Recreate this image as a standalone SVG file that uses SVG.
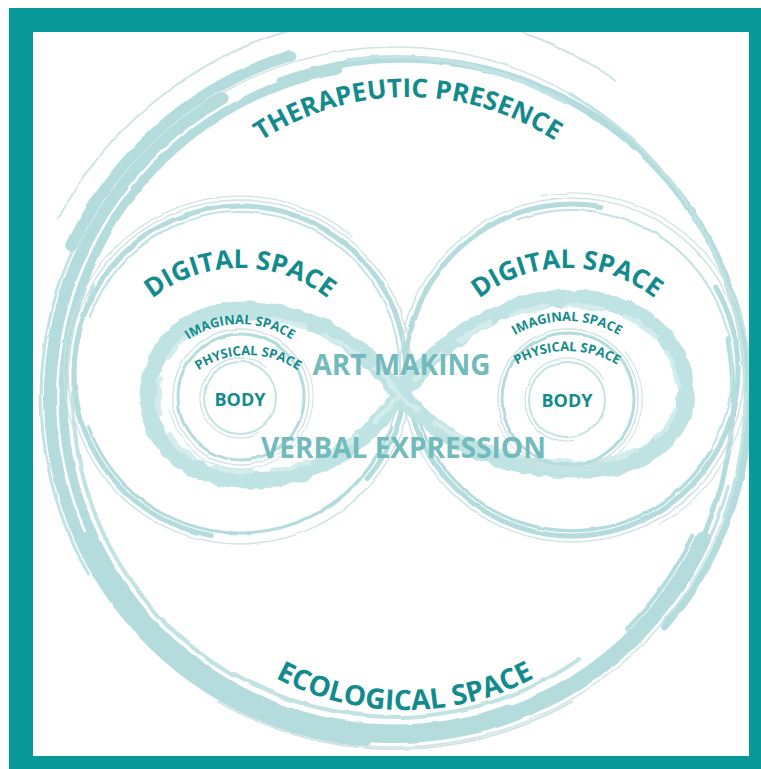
<svg xmlns="http://www.w3.org/2000/svg" width="761" height="769" viewBox="0 0 761 769">
<style>
.b{fill:none;stroke:#b4dcdd;stroke-linecap:round}
.l{fill:none;stroke:#c2e2e3;stroke-linecap:round}
.g{fill:none;stroke:#cfe3e3;stroke-linecap:round}
.lbl{font-family:"Open Sans","Liberation Sans",sans-serif;font-weight:700;fill:#138b8d}
.mid{font-family:"Open Sans","Liberation Sans",sans-serif;font-weight:700;fill:#72babc;text-anchor:middle}
</style>
<defs>
<filter id="rough" x="-5%" y="-5%" width="110%" height="110%">
<feTurbulence type="fractalNoise" baseFrequency="0.07" numOctaves="2" seed="4"/>
<feDisplacementMap in="SourceGraphic" scale="7" xChannelSelector="R" yChannelSelector="G"/>
</filter>
<filter id="soft" x="-5%" y="-5%" width="110%" height="110%">
<feTurbulence type="fractalNoise" baseFrequency="0.04" numOctaves="2" seed="9"/>
<feDisplacementMap in="SourceGraphic" scale="3" xChannelSelector="R" yChannelSelector="G"/>
</filter>
<path id="p-ther" d="M140,365 A268,268 0 0 1 676,365"/>
<path id="p-eco" d="M128,433 A277,277 0 0 0 682,433"/>
<path id="p-dl" d="M99,409 A141,141 0 0 1 381,409"/>
<path id="p-dr" d="M426,409 A141,141 0 0 1 708,409"/>
<path id="p-il" d="M147,417 A93,93 0 0 1 333,417"/>
<path id="p-pl" d="M160,443 A88,88 0 0 1 336,443"/>
<path id="p-ir" d="M465,423 A102,102 0 0 1 669,423"/>
<path id="p-pr" d="M469,449 A98,98 0 0 1 665,449"/>
</defs>
<rect width="761" height="769" fill="#ffffff"/>

<g id="therapeutic-presence-ring" filter="url(#soft)">
<circle class="g" cx="395" cy="397" r="350" stroke-width="1.5"/>
<circle class="b" cx="395" cy="397" r="345" stroke-width="12" pathLength="360" stroke-dasharray="145 999" transform="rotate(95 395 397)"/>
<circle class="b" cx="395" cy="397" r="332" stroke-width="9" pathLength="360" stroke-dasharray="190 999" transform="rotate(70 395 397)"/>
<circle class="l" cx="395" cy="397" r="322" stroke-width="4" pathLength="360" stroke-dasharray="80 999" transform="rotate(120 395 397)"/>
<circle class="l" cx="395" cy="397" r="354" stroke-width="3" pathLength="360" stroke-dasharray="75 999" transform="rotate(150 395 397)"/>
<circle class="b" cx="395" cy="397" r="357" stroke-width="11" pathLength="360" stroke-dasharray="48 999" transform="rotate(205 395 397)"/>
<circle class="g" cx="395" cy="397" r="381" stroke-width="2" pathLength="360" stroke-dasharray="50 999" transform="rotate(208 395 397)"/>
<circle class="g" cx="395" cy="397" r="386" stroke-width="2" pathLength="360" stroke-dasharray="23 999" transform="rotate(282 395 397)"/>
<ellipse class="b" cx="398" cy="405" rx="345" ry="352" stroke-width="7" pathLength="360" stroke-dasharray="150 999" transform="rotate(250 398 405)"/>
<circle class="l" cx="395" cy="397" r="340" stroke-width="4" pathLength="360" stroke-dasharray="38 999" transform="rotate(262 395 397)"/>
<circle class="l" cx="395" cy="397" r="350" stroke-width="3" pathLength="360" stroke-dasharray="80 999" transform="rotate(300 395 397)"/>
<circle class="b" cx="395" cy="397" r="338" stroke-width="5" pathLength="360" stroke-dasharray="40 999" transform="rotate(350 395 397)"/>
<circle class="b" cx="395" cy="397" r="328" stroke-width="4" pathLength="360" stroke-dasharray="20 999" transform="rotate(25 395 397)"/>
<circle class="l" cx="395" cy="397" r="345" stroke-width="3" pathLength="360" stroke-dasharray="20 999" transform="rotate(15 395 397)"/>
</g>

<g id="ecological-space-ring" filter="url(#soft)">
<circle class="b" cx="395" cy="395" r="340" stroke-width="16" pathLength="360" stroke-dasharray="130 999" transform="rotate(25 395 395)"/>
<circle class="l" cx="395" cy="395" r="322" stroke-width="4" pathLength="360" stroke-dasharray="65 999" transform="rotate(55 395 395)"/>
<circle class="g" cx="395" cy="395" r="354" stroke-width="2" pathLength="360" stroke-dasharray="60 999" transform="rotate(60 395 395)"/>
</g>

<g id="digital-left" filter="url(#soft)">
<circle class="b" cx="240" cy="372" r="166" stroke-width="5" pathLength="360" stroke-dasharray="300 999" transform="rotate(100 240 372)"/>
<circle class="g" cx="240" cy="372" r="172" stroke-width="1.5"/>
<circle class="l" cx="240" cy="372" r="160" stroke-width="2" pathLength="360" stroke-dasharray="220 999" transform="rotate(200 240 372)"/>
<circle class="g" cx="240" cy="372" r="176" stroke-width="1.2" pathLength="360" stroke-dasharray="150 999" transform="rotate(160 240 372)"/>
<circle class="b" cx="240" cy="372" r="161" stroke-width="3" pathLength="360" stroke-dasharray="140 999" transform="rotate(20 240 372)"/>
</g>

<g id="digital-right" filter="url(#soft)">
<circle class="b" cx="572" cy="370" r="166" stroke-width="5" pathLength="360" stroke-dasharray="310 999" transform="rotate(330 572 370)"/>
<circle class="g" cx="572" cy="370" r="172" stroke-width="1.5"/>
<circle class="l" cx="572" cy="370" r="160" stroke-width="2" pathLength="360" stroke-dasharray="220 999" transform="rotate(250 572 370)"/>
<circle class="g" cx="572" cy="370" r="177" stroke-width="1.2" pathLength="360" stroke-dasharray="160 999" transform="rotate(260 572 370)"/>
<circle class="b" cx="572" cy="370" r="161" stroke-width="3" pathLength="360" stroke-dasharray="140 999" transform="rotate(30 572 370)"/>
</g>

<g id="infinity-loop">
<path filter="url(#rough)" fill="none" stroke="#bfe2e2" stroke-width="17" stroke-linejoin="round" d="M400,395 C365,345 310,310 245,310 C180,310 148,355 148,398 C148,445 190,480 250,480 C320,480 368,440 400,395 C440,340 500,298 570,298 C645,298 686,345 686,392 C686,438 640,470 580,470 C500,470 440,440 400,395 Z"/>
<path filter="url(#rough)" fill="none" stroke="#d3ecec" stroke-width="5" stroke-dasharray="40 18" d="M400,395 C365,350 310,318 245,318 C185,318 158,358 158,398 C158,440 195,472 250,472 C318,472 365,435 400,395 C440,345 500,306 570,306 C640,306 678,348 678,392 C678,432 638,462 580,462 C505,462 440,435 400,395 Z"/>
</g>

<g id="body-left">
<g filter="url(#soft)">
<circle class="l" cx="240" cy="398" r="36" stroke-width="2"/>
<circle class="g" cx="240" cy="398" r="40" stroke-width="1.3" pathLength="360" stroke-dasharray="250 999" transform="rotate(60 240 398)"/>
<circle class="b" cx="241" cy="397" r="63" stroke-width="3"/>
<circle class="g" cx="241" cy="397" r="68" stroke-width="1.4"/>
<circle class="g" cx="241" cy="397" r="72" stroke-width="1" pathLength="360" stroke-dasharray="200 999" transform="rotate(330 241 397)"/>
</g>
<text class="lbl" x="240" y="405.5" font-size="18" text-anchor="middle">BODY</text>
</g>

<g id="body-right">
<g filter="url(#soft)">
<circle class="l" cx="567" cy="400" r="38" stroke-width="2"/>
<circle class="g" cx="567" cy="400" r="42" stroke-width="1.3" pathLength="360" stroke-dasharray="250 999" transform="rotate(80 567 400)"/>
<circle class="b" cx="568" cy="399" r="66" stroke-width="3"/>
<circle class="g" cx="568" cy="399" r="70" stroke-width="1.4"/>
<circle class="g" cx="568" cy="399" r="74" stroke-width="1" pathLength="360" stroke-dasharray="200 999" transform="rotate(320 568 399)"/>
</g>
<text class="lbl" x="567" y="406.5" font-size="18" text-anchor="middle">BODY</text>
</g>

<g id="labels">
<text class="lbl" font-size="26"><textPath href="#p-ther" startOffset="50%" text-anchor="middle">THERAPEUTIC PRESENCE</textPath></text>
<text class="lbl" font-size="28"><textPath href="#p-eco" startOffset="50%" text-anchor="middle">ECOLOGICAL SPACE</textPath></text>
<text class="lbl" font-size="26"><textPath href="#p-dl" startOffset="50%" text-anchor="middle">DIGITAL SPACE</textPath></text>
<text class="lbl" font-size="26"><textPath href="#p-dr" startOffset="50%" text-anchor="middle">DIGITAL SPACE</textPath></text>
<text class="lbl" font-size="13"><textPath href="#p-il" startOffset="50%" text-anchor="middle">IMAGINAL SPACE</textPath></text>
<text class="lbl" font-size="13"><textPath href="#p-pl" startOffset="50%" text-anchor="middle">PHYSICAL SPACE</textPath></text>
<text class="lbl" font-size="13"><textPath href="#p-ir" startOffset="50%" text-anchor="middle">IMAGINAL SPACE</textPath></text>
<text class="lbl" font-size="13"><textPath href="#p-pr" startOffset="50%" text-anchor="middle">PHYSICAL SPACE</textPath></text>
<text class="mid" x="401.5" y="375" font-size="28">ART MAKING</text>
<text class="mid" x="403.5" y="458" font-size="28">VERBAL EXPRESSION</text>
</g>

<path id="frame" fill="#0a9999" fill-rule="evenodd" d="M9,8 H761 V769 H9 Z M33,32 V756 H749 V32 Z"/>
</svg>
